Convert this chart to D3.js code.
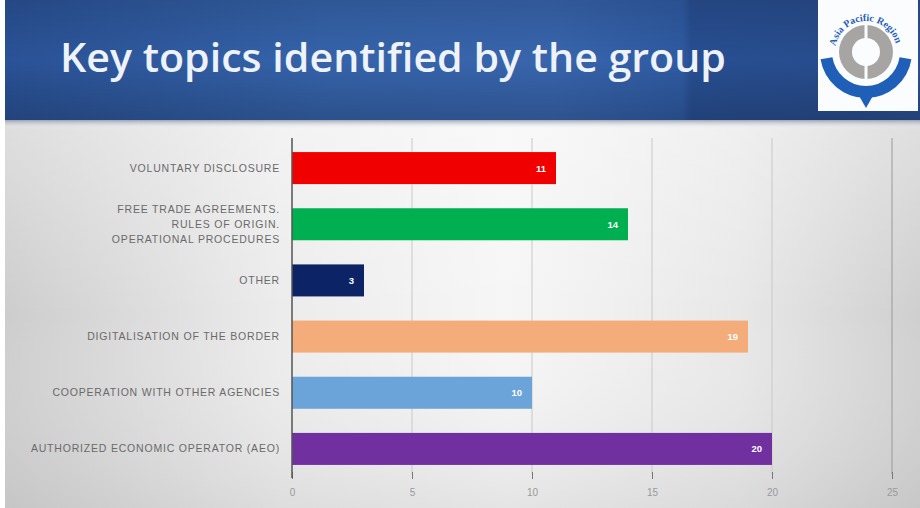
<!DOCTYPE html>
<html><head><meta charset="utf-8">
<script src="https://cdn.jsdelivr.net/npm/d3@7"></script>
<style>html,body{margin:0;padding:0;background:#fff;}svg{display:block;}</style>
</head><body>
<script>
const categories = [
  ["VOLUNTARY DISCLOSURE"],
  ["FREE TRADE AGREEMENTS.", "RULES OF ORIGIN.", "OPERATIONAL PROCEDURES"],
  ["OTHER"],
  ["DIGITALISATION OF THE BORDER"],
  ["COOPERATION WITH OTHER AGENCIES"],
  ["AUTHORIZED ECONOMIC OPERATOR (AEO)"]
];
const values = [11, 14, 3, 19, 10, 20];
const colors = ["#f00000", "#00b050", "#0c2466", "#f4ac7b", "#6aa4d8", "#7030a0"];
const tickValues = [0, 5, 10, 15, 20, 25];
const title = "Key topics identified by the group";

const W = 920, H = 508;
const svg = d3.select("body").append("svg").attr("width", W).attr("height", H);
const defs = svg.append("defs");

// page background
const bg = defs.append("linearGradient").attr("id", "bg").attr("x1", 0).attr("x2", 1).attr("y1", 0).attr("y2", 0);
[[0, "#cdcdcd"], [0.3, "#ececec"], [0.55, "#f6f6f6"], [0.8, "#e8e8e8"], [1, "#cfcfcf"]]
  .forEach(([o, c]) => bg.append("stop").attr("offset", o).attr("stop-color", c));
svg.append("rect").attr("x", 5).attr("y", 0).attr("width", W - 5).attr("height", H).attr("fill", "url(#bg)");
const bgv = defs.append("linearGradient").attr("id", "bgv").attr("x1", 0).attr("x2", 0).attr("y1", 0).attr("y2", 1);
[[0, "#ffffff", 0.35], [0.5, "#ffffff", 0], [1, "#b0b0b0", 0.25]]
  .forEach(([o, c, a]) => bgv.append("stop").attr("offset", o).attr("stop-color", c).attr("stop-opacity", a));
svg.append("rect").attr("x", 5).attr("y", 120).attr("width", W - 5).attr("height", H - 120).attr("fill", "url(#bgv)");

// header
const hg = defs.append("linearGradient").attr("id", "hg").attr("x1", 0).attr("x2", 1).attr("y1", 0).attr("y2", 0);
[[0, "#2a5296"], [0.35, "#3563aa"], [0.6, "#3865ad"], [0.74, "#2f5ba3"], [0.75, "#284f92"], [0.9, "#284d8e"], [1, "#2a5092"]]
  .forEach(([o, c]) => hg.append("stop").attr("offset", o).attr("stop-color", c));
svg.append("rect").attr("x", 5).attr("y", 0).attr("width", W - 5).attr("height", 120).attr("fill", "url(#hg)");
const hv = defs.append("linearGradient").attr("id", "hv").attr("x1", 0).attr("x2", 0).attr("y1", 0).attr("y2", 1);
[[0, "#000", 0.12], [0.5, "#000", 0], [1, "#000", 0.18]]
  .forEach(([o, c, a]) => hv.append("stop").attr("offset", o).attr("stop-color", c).attr("stop-opacity", a));
svg.append("rect").attr("x", 5).attr("y", 0).attr("width", W - 5).attr("height", 120).attr("fill", "url(#hv)");
// shadow under header
const sh = defs.append("linearGradient").attr("id", "sh").attr("x1", 0).attr("x2", 0).attr("y1", 0).attr("y2", 1);
[[0, "#8a93a6", 0.8], [1, "#ffffff", 0]]
  .forEach(([o, c, a]) => sh.append("stop").attr("offset", o).attr("stop-color", c).attr("stop-opacity", a));
svg.append("rect").attr("x", 5).attr("y", 120).attr("width", W - 5).attr("height", 9).attr("fill", "url(#sh)");

svg.append("text").attr("x", 60).attr("y", 72)
  .attr("font-family", "'Open Sans', 'Noto Sans', sans-serif").attr("font-weight", 600)
  .attr("font-size", 40).attr("fill", "#eef2f9")
  .attr("textLength", 666).attr("lengthAdjust", "spacingAndGlyphs")
  .text(title);

// logo
svg.append("rect").attr("x", 818).attr("y", 0).attr("width", 100).attr("height", 111).attr("fill", "#fbfcfd");
const lg = svg.append("g").attr("transform", "translate(866,52)");
lg.append("path").attr("d", d3.arc()({innerRadius: 34, outerRadius: 46, startAngle: Math.PI * 0.55, endAngle: Math.PI * 1.45})).attr("fill", "#1f5fb8");
lg.append("path").attr("d", "M-8,42 L0,56 L8,42 Z").attr("fill", "#1f5fb8");
lg.append("circle").attr("r", 27).attr("fill", "#a7a5a3");
lg.append("circle").attr("r", 14).attr("fill", "#fbfcfd");
lg.append("rect").attr("x", -1.5).attr("y", -28).attr("width", 3).attr("height", 56).attr("fill", "#fbfcfd");
lg.append("path").attr("id", "arcTxt").attr("d", d3.arc()({innerRadius: 31, outerRadius: 31, startAngle: -Math.PI * 0.55, endAngle: Math.PI * 0.55}).split("L")[0]).attr("fill", "none");
lg.append("text").attr("font-family", "'Liberation Serif', serif").attr("font-size", 10).attr("font-weight", "bold").attr("fill", "#1f5fb8")
  .append("textPath").attr("href", "#arcTxt").attr("startOffset", "5%").text("Asia Pacific Region");

// chart
const x = d3.scaleLinear().domain([0, 25]).range([292, 892]);
const y = d3.scaleBand().domain(d3.range(categories.length)).range([140, 477]).paddingInner(0.43).paddingOuter(0.215);

const g = svg.append("g");
g.selectAll(".grid").data(tickValues.slice(1)).join("line")
  .attr("x1", d => x(d)).attr("x2", d => x(d)).attr("y1", 138).attr("y2", 474)
  .attr("stroke", d => d === 25 ? "#9a9a9a" : "#c9c9c9").attr("stroke-width", 1);

g.selectAll(".bar").data(values).join("rect")
  .attr("x", x(0)).attr("y", (d, i) => y(i)).attr("width", d => x(d) - x(0)).attr("height", y.bandwidth())
  .attr("fill", (d, i) => colors[i]);

g.selectAll(".val").data(values).join("text")
  .attr("x", d => x(d) - 10).attr("y", (d, i) => y(i) + y.bandwidth() / 2 + 3.5)
  .attr("text-anchor", "end").attr("font-family", "'Liberation Sans', sans-serif").attr("font-weight", "bold")
  .attr("font-size", 9.5).attr("fill", "#fff").text(d => d);

// axis
const axis = d3.axisBottom(x).tickValues(tickValues).tickSize(7).tickPadding(8);
const ax = svg.append("g").attr("transform", "translate(0,472)").call(axis);
ax.select(".domain").remove();
ax.selectAll(".tick line").attr("stroke", "#777");
ax.selectAll(".tick text").attr("font-family", "'Liberation Sans', sans-serif").attr("font-size", 10).attr("fill", "#999").attr("dy", "0.9em");
svg.append("line").attr("x1", x(0)).attr("x2", x(0)).attr("y1", 138).attr("y2", 478).attr("stroke", "#555").attr("stroke-width", 1.5);

// category labels
const lab = svg.append("g");
categories.forEach((lines, i) => {
  const cy = y(i) + y.bandwidth() / 2;
  const lh = 15;
  const t = lab.append("text").attr("text-anchor", "end")
    .attr("font-family", "'Liberation Sans', sans-serif").attr("font-size", 10.5)
    .attr("letter-spacing", 0.8).attr("fill", "#6a6a6a");
  lines.forEach((s, k) => {
    t.append("tspan").attr("x", 280).attr("y", cy + 3.5 + (k - (lines.length - 1) / 2) * lh).text(s);
  });
});
</script>
</body></html>
